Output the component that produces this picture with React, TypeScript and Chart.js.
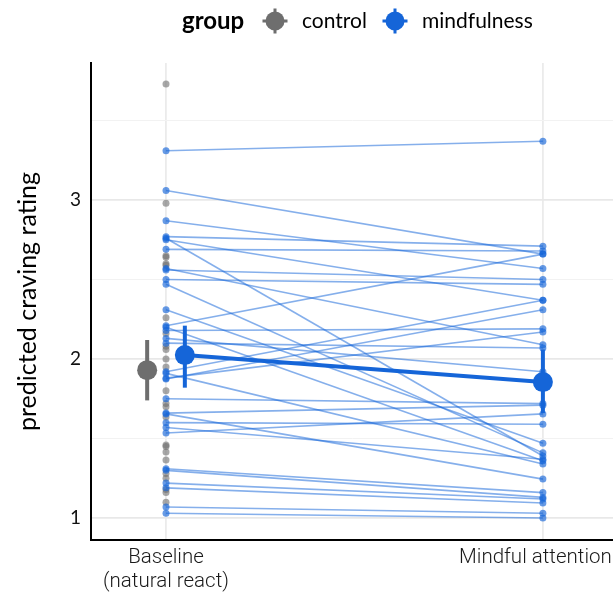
import React, { useEffect, useRef } from 'react';
import { Chart, registerables } from 'chart.js';
Chart.register(...registerables);

// ---- data ----
const conditionLabels: (string | string[])[] = [['Baseline', '(natural react)'], 'Mindful attention   '];
const groupNames = ['control', 'mindfulness'];
const yTickValues = [1, 2, 3];
const yMinorValues = [1.5, 2.5, 3.5];

// individual participants (mindfulness group): baseline -> mindful attention
const mindfulnessBaseline = [3.31, 3.06, 2.87, 2.77, 2.76, 2.75, 2.69, 2.57, 2.56, 2.5, 2.47, 2.31, 2.21, 2.2, 2.18, 2.13, 2.1, 1.92, 1.91, 1.88, 1.875, 1.75, 1.66, 1.655, 1.6, 1.57, 1.535, 1.31, 1.3, 1.22, 1.19, 1.07, 1.03];
const mindfulnessAttention = [3.37, 2.66, 2.57, 2.71, 1.39, 2.37, 2.68, 2.09, 2.5, 2.47, 1.41, 1.47, 2.66, 1.36, 2.19, 1.92, 2.07, 2.37, 1.34, 2.17, 2.31, 1.72, 1.71, 1.245, 1.59, 1.37, 1.655, 1.16, 1.13, 1.12, 1.095, 1.03, 1.0];

// control group: baseline only
const controlBaseline = [3.73, 2.98, 2.65, 2.64, 2.6, 2.59, 2.26, 2.16, 2.08, 2.06, 2.0, 1.95, 1.8, 1.72, 1.7, 1.635, 1.46, 1.45, 1.415, 1.365, 1.28, 1.25, 1.18, 1.16, 1.1];

// model estimates (mean, lower, upper)
const controlMean = [1.93];
const controlLower = [1.74];
const controlUpper = [2.12];
const mindfulnessMean = [2.025, 1.855];
const mindfulnessLower = [1.82, 1.66];
const mindfulnessUpper = [2.21, 2.06];

const DODGE = 0.05;
const BLUE = '#1565d8';
const GRAY = '#6e6e6e';

const legendPlugin = {
  id: 'groupLegend',
  afterDraw(chart: any) {
    const ctx = chart.ctx as CanvasRenderingContext2D;
    ctx.save();
    ctx.fillStyle = '#000';
    ctx.textBaseline = 'alphabetic';
    ctx.textAlign = 'left';
    ctx.font = 'bold 24px Lato';
    ctx.fillText('group', 182, 29);
    const glyph = (cx: number, cy: number, col: string) => {
      ctx.strokeStyle = col;
      ctx.fillStyle = col;
      ctx.lineWidth = 3;
      ctx.beginPath();
      ctx.moveTo(cx - 12.5, cy); ctx.lineTo(cx + 12.5, cy);
      ctx.moveTo(cx, cy - 12.5); ctx.lineTo(cx, cy + 12.5);
      ctx.stroke();
      ctx.beginPath();
      ctx.arc(cx, cy, 9.5, 0, Math.PI * 2);
      ctx.fill();
    };
    glyph(275, 21, GRAY);
    glyph(395, 21, BLUE);
    ctx.fillStyle = '#000';
    ctx.font = '21px Lato';
    ctx.fillText(groupNames[0], 302, 28);
    ctx.fillText(groupNames[1], 422, 28);
    ctx.restore();
  },
};

export default function App() {
  const ref = useRef<HTMLCanvasElement>(null);
  useEffect(() => {
    const canvas = ref.current!;
    const individual = mindfulnessBaseline.map((b, i) => ({
      data: [{ x: 1, y: b }, { x: 2, y: mindfulnessAttention[i] }],
      showLine: true,
      borderColor: 'rgba(21,101,216,0.52)',
      borderWidth: 1.6,
      pointRadius: 3.5,
      pointBackgroundColor: 'rgba(21,101,216,0.65)',
      pointBorderWidth: 0,
      order: 10,
    }));
    const controlPts = {
      data: controlBaseline.map((v) => ({ x: 1, y: v })),
      showLine: false,
      pointRadius: 3.5,
      pointBackgroundColor: 'rgba(110,110,110,0.6)',
      pointBorderWidth: 0,
      order: 11,
    };
    const errBar = (x: number, lo: number, hi: number, col: string) => ({
      data: [{ x, y: lo }, { x, y: hi }],
      showLine: true,
      borderColor: col,
      borderWidth: 4,
      pointRadius: 0,
      order: 2,
    });
    const mindX = [1 + DODGE, 2];
    const summary = [
      errBar(1 - DODGE, controlLower[0], controlUpper[0], GRAY),
      ...mindX.map((x, i) => errBar(x, mindfulnessLower[i], mindfulnessUpper[i], BLUE)),
      {
        data: controlMean.map((m) => ({ x: 1 - DODGE, y: m })),
        showLine: false,
        pointRadius: 10,
        pointBackgroundColor: GRAY,
        pointBorderWidth: 0,
        order: 1,
      },
      {
        data: mindfulnessMean.map((m, i) => ({ x: mindX[i], y: m })),
        showLine: true,
        borderColor: BLUE,
        borderWidth: 4,
        pointRadius: 10,
        pointBackgroundColor: BLUE,
        pointBorderWidth: 0,
        order: 1,
      },
    ];

    const chart = new Chart(canvas, {
      type: 'scatter',
      data: { datasets: [...summary, ...individual, controlPts] as any },
      plugins: [legendPlugin],
      options: {
        responsive: false,
        animation: false,
        events: [],
        layout: { autoPadding: false, padding: { top: 63, left: 0, right: 0, bottom: 0 } },
        plugins: { legend: { display: false }, tooltip: { enabled: false } },
        scales: {
          x: {
            type: 'linear',
            min: 0.801,
            max: 2.186,
            afterBuildTicks: (s: any) => { s.ticks = [1, 2].map((v) => ({ value: v })); },
            afterFit: (s: any) => { s.height = 60; s.paddingLeft = 0; s.paddingRight = 0; },
            grid: { color: '#ebebeb', lineWidth: 1.8, drawTicks: false },
            border: { display: true, color: '#000', width: 2 },
            ticks: {
              maxRotation: 0,
              minRotation: 0,
              autoSkip: false,
              padding: 6,
              color: '#1a1a1a',
              font: { family: 'Roboto', size: 20.5, weight: '300' as any, lineHeight: 1.17 },
              callback: (v: any) => conditionLabels[Math.round(v) - 1] as any,
            },
          },
          y: {
            type: 'linear',
            min: 0.862,
            max: 3.862,
            afterBuildTicks: (s: any) => {
              s.ticks = [...yTickValues, ...yMinorValues].sort((a, b) => a - b).map((v) => ({ value: v }));
            },
            afterFit: (s: any) => { s.width = 91; s.paddingTop = 0; s.paddingBottom = 0; },
            grid: {
              drawTicks: false,
              color: (c: any) => (yTickValues.includes(c.tick?.value) ? '#e8e8e8' : '#f2f2f2'),
              lineWidth: (c: any) => (yTickValues.includes(c.tick?.value) ? 1.8 : 1),
            },
            border: { display: true, color: '#000', width: 2 },
            ticks: {
              autoSkip: false,
              padding: 10,
              color: '#111',
              font: { family: 'Lato', size: 19 },
              callback: (v: any) => (yTickValues.includes(v) ? String(v) : ''),
            },
            title: {
              display: true,
              text: 'predicted craving rating',
              color: '#000',
              font: { family: 'Lato', size: 25, lineHeight: 1.2 },
              padding: { top: 13, bottom: 0 },
            },
          },
        },
      },
    });
    return () => chart.destroy();
  }, []);
  return (
    <div style={{ position: 'fixed', left: 0, top: 0, width: 613, height: 600, background: '#fff' }}>
      <canvas ref={ref} width={613} height={600} />
    </div>
  );
}
